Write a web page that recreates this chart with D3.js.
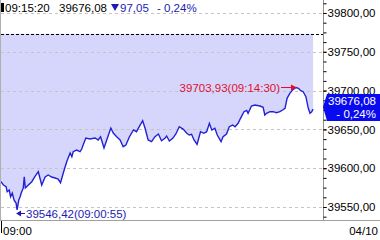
<!DOCTYPE html>
<html>
<head>
<meta charset="utf-8">
<script src="https://cdn.jsdelivr.net/npm/d3@7"></script>
<style>
  body { margin: 0; background: #fff; }
  svg { display: block; font-family: "Liberation Sans", Arial, sans-serif; }
</style>
</head>
<body>
<svg width="380" height="240"></svg>
<script>
var width = 380, height = 240
var plotLeft = 1, plotRight = 323, plotTop = 0, plotBottom = 220

// seconds after 09:00:00
var times = [8, 15, 23, 26, 32, 36, 41, 46, 52, 55, 60, 64, 67, 73, 76, 79, 88, 98, 107, 117,
  127, 137, 146, 156, 166, 175, 182, 190, 200, 210, 215, 219, 229, 239, 244, 248, 256, 268, 283, 292,
  299, 309, 317, 329, 336, 346, 356, 365, 373, 383, 395, 404, 412, 422, 429, 438, 448, 458, 468, 477,
  487, 492, 500, 510, 519, 529, 541, 551, 558, 565, 572, 581, 591, 601, 609, 617, 624, 633, 640, 651,
  657, 667, 675, 685, 692, 701, 708, 718, 726, 730, 740, 750, 765, 774, 779, 784, 794, 803, 813, 823,
  831, 838, 844, 852, 860, 870, 877, 884, 891, 899, 906, 911, 916, 920]

var prices = [39582.60, 39578.34, 39576.15, 39569.71, 39571.90, 39563.27, 39568.03, 39559.01, 39555.15, 39546.42,
  39559.01, 39563.27, 39568.03, 39574.48, 39589.04, 39574.48, 39578.34, 39582.60, 39589.04, 39595.48,
  39578.34, 39588.65, 39591.23, 39588.65, 39587.36, 39586.08, 39581.31, 39593.81, 39608.37, 39619.58,
  39614.81, 39621.26, 39623.45, 39621.26, 39624.74, 39629.89, 39638.91, 39637.62, 39638.91, 39636.34,
  39640.59, 39626.03, 39636.34, 39651.80, 39645.36, 39640.59, 39636.34, 39627.70, 39629.89, 39640.20,
  39649.22, 39647.03, 39653.48, 39661.21, 39651.41, 39636.34, 39634.14, 39640.59, 39644.07, 39635.43,
  39638.53, 39641.49, 39635.05, 39638.53, 39644.07, 39653.48, 39650.12, 39644.97, 39642.78, 39643.68,
  39636.34, 39630.79, 39647.03, 39644.97, 39647.03, 39657.86, 39649.22, 39651.41, 39642.78, 39634.14,
  39640.59, 39644.07, 39653.48, 39655.67, 39653.48, 39657.86, 39664.30, 39672.81, 39674.35, 39670.74,
  39680.15, 39681.44, 39680.15, 39678.48, 39668.55, 39670.74, 39672.81, 39672.81, 39671.52, 39672.81,
  39675.00, 39677.19, 39690.07, 39696.52, 39700.77, 39703.93, 39702.96, 39699.87, 39698.58, 39692.14,
  39677.19, 39670.74, 39672.81, 39676.08]

var yTicks = [39550, 39600, 39650, 39700, 39750, 39800]
var prevClose = 39773.13
var lastTime = '09:15:20'
var change = '97,05'
var changePct = '- 0,24%'
var maxTime = 870, maxLabel = '39703,93(09:14:30)'
var minTime = 55, minLabel = '39546,42(09:00:55)'
var startLabel = '09:00', dateLabel = '04/10'

var locale = d3.formatLocale({decimal: ',', thousands: '', grouping: [3], currency: ['', '']})
var fmt = locale.format('.2f')

var data = times.map(function(t, i) { return {t: t, p: prices[i]} })

var x = d3.scaleLinear().domain([8, 949]).range([plotLeft, plotRight])
var y = d3.scaleLinear().domain([39533.25, 39816.75]).range([plotBottom, plotTop])

var svg = d3.select('svg')

// fill between price and previous close
var area = d3.area()
  .x(function(d) { return x(d.t) })
  .y0(y(prevClose))
  .y1(function(d) { return y(d.p) })

svg.append('path')
  .datum(data)
  .attr('d', area)
  .attr('fill', '#d6d6fc')

// grid
svg.selectAll('.grid')
  .data(yTicks)
  .enter().append('line')
  .attr('class', 'grid')
  .attr('x1', plotLeft).attr('x2', plotRight)
  .attr('y1', function(d) { return Math.round(y(d)) + 0.5 })
  .attr('y2', function(d) { return Math.round(y(d)) + 0.5 })
  .attr('stroke', '#c4c4c4')
  .attr('stroke-dasharray', '3,3')

// previous close
svg.append('line')
  .attr('x1', plotLeft).attr('x2', plotRight)
  .attr('y1', Math.round(y(prevClose)) + 0.5)
  .attr('y2', Math.round(y(prevClose)) + 0.5)
  .attr('stroke', '#000')
  .attr('stroke-dasharray', '3,2')

// price line
var line = d3.line()
  .x(function(d) { return x(d.t) })
  .y(function(d) { return y(d.p) })

svg.append('path')
  .datum(data)
  .attr('d', line)
  .attr('fill', 'none')
  .attr('stroke', '#2222d4')
  .attr('stroke-width', 1.4)

// frame
svg.append('line').attr('x1', 0.5).attr('x2', 0.5).attr('y1', 0).attr('y2', plotBottom)
  .attr('stroke', '#b0b0b0')
svg.append('line').attr('x1', plotRight + 0.5).attr('x2', plotRight + 0.5).attr('y1', 0).attr('y2', plotBottom)
  .attr('stroke', '#909090')
svg.append('line').attr('x1', 0).attr('x2', width).attr('y1', plotBottom + 0.5).attr('y2', plotBottom + 0.5)
  .attr('stroke', '#a0a0a0')
svg.append('line').attr('x1', 1.5).attr('x2', 1.5).attr('y1', plotBottom + 1).attr('y2', plotBottom + 13)
  .attr('stroke', '#000')

// right axis
var minor = d3.range(39537.5, 39816, 12.5)
svg.append('g')
  .attr('transform', 'translate(' + (plotRight + 0.5) + ',0)')
  .call(d3.axisRight(y).tickValues(minor).tickSize(3).tickFormat(''))
  .call(function(g) { g.select('.domain').remove() })

svg.append('g')
  .attr('transform', 'translate(' + (plotRight + 0.5) + ',0)')
  .call(d3.axisRight(y).tickValues(yTicks).tickSize(3).tickPadding(1).tickFormat(fmt))
  .call(function(g) {
    g.select('.domain').remove()
    g.selectAll('text')
      .attr('font-family', '"Liberation Sans", Arial, sans-serif')
      .attr('font-size', 11.5)
      .attr('fill', '#000')
  })

// header
var header = svg.append('g').attr('font-size', 11.5)
header.append('rect').attr('x', 1).attr('y', 3).attr('width', 3).attr('height', 9).attr('fill', '#000')
header.append('text').attr('x', 5).attr('y', 12).text(lastTime)
header.append('text').attr('x', 59).attr('y', 12).text(fmt(prices[prices.length - 1]))
header.append('path').attr('d', 'M111,4 L119,4 L115,11 Z').attr('fill', '#1c1cb4')
header.append('text').attr('x', 120).attr('y', 12).attr('fill', '#1c1cb4').text(change)
header.append('text').attr('x', 157).attr('y', 12).attr('fill', '#1c1cb4').text(changePct)

// bottom labels
svg.append('text').attr('x', 3).attr('y', 235).attr('font-size', 11.5).text(startLabel)
svg.append('text').attr('x', 378).attr('y', 235).attr('font-size', 11.5)
  .attr('text-anchor', 'end').text(dateLabel)

// max annotation
var maxY = Math.round(y(prices[times.indexOf(maxTime)])) - 0.5
svg.append('text').attr('x', 280).attr('y', maxY + 4).attr('font-size', 11.5)
  .attr('text-anchor', 'end').attr('fill', '#e0102c').text(maxLabel)
svg.append('line').attr('x1', 281).attr('x2', x(maxTime) - 3).attr('y1', maxY).attr('y2', maxY)
  .attr('stroke', '#e0102c')
svg.append('path')
  .attr('d', 'M' + (x(maxTime) + 1) + ',' + maxY + ' l-6,-3 l0,6 Z')
  .attr('fill', '#e0102c')

// min annotation
var minY = Math.round(y(prices[times.indexOf(minTime)])) + 3.5
svg.append('path')
  .attr('d', 'M' + (x(minTime) - 1) + ',' + minY + ' l5,-3 l0,6 Z')
  .attr('fill', '#1c1cb4')
svg.append('line').attr('x1', x(minTime) + 3).attr('x2', 25).attr('y1', minY).attr('y2', minY)
  .attr('stroke', '#1c1cb4')
svg.append('text').attr('x', 26).attr('y', minY + 4).attr('font-size', 11.5)
  .attr('fill', '#1c1cb4').text(minLabel)

// current price tag
var lastY = Math.round(y(prices[prices.length - 1]))
svg.append('path')
  .attr('d', 'M' + plotRight + ',' + (lastY - 2) + ' L327,' + (lastY - 15) + ' L380,' + (lastY - 15) +
    ' L380,' + (lastY + 12) + ' L327,' + (lastY + 12) + ' Z')
  .attr('fill', '#0a0af0')
svg.append('text').attr('x', 376).attr('y', lastY - 4).attr('font-size', 11.5)
  .attr('text-anchor', 'end').attr('fill', '#fff').text(fmt(prices[prices.length - 1]))
svg.append('text').attr('x', 376).attr('y', lastY + 9).attr('font-size', 11.5)
  .attr('text-anchor', 'end').attr('fill', '#fff').text(changePct)
</script>
</body>
</html>
